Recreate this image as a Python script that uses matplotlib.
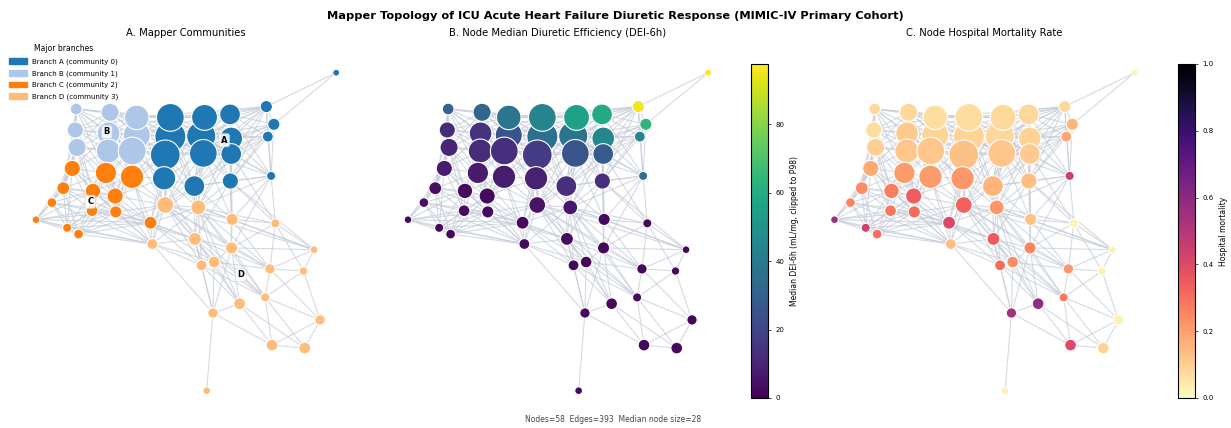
"""
Mapper topology figure: communities, node median DEI-6h, node mortality.
Writes out.png
"""
import numpy as np
import matplotlib
matplotlib.use("Agg")
import matplotlib.pyplot as plt
from matplotlib.collections import LineCollection
from matplotlib.patches import Patch

# ── Mapper graph (layout coords, node stats) ─────────
NODE_X = [1.001, 0.134, 0.247, 0.336, 0.448, 0.562, 0.647, 0.768, 0.793, 0.773,
          0.131, 0.242, 0.336, 0.448, 0.551, 0.651, 0.137, 0.241, 0.321, 0.431,
          0.558, 0.651, 0.121, 0.233, 0.320, 0.427, 0.528, 0.648, 0.784, 0.091,
          0.190, 0.264, 0.053, 0.187, 0.266, 0.431, 0.541, 0.000, 0.104, 0.142,
          0.382, 0.654, 0.798, 0.388, 0.530, 0.652, 0.927, 0.552, 0.594, 0.780,
          0.892, 0.764, 0.679, 0.590, 0.947, 0.787, 0.896, 0.569]
NODE_Y = [1.061, 0.940, 0.929, 0.912, 0.912, 0.912, 0.922, 0.948, 0.889, 0.848,
          0.870, 0.859, 0.853, 0.848, 0.850, 0.842, 0.812, 0.800, 0.800, 0.787,
          0.792, 0.790, 0.742, 0.727, 0.714, 0.709, 0.683, 0.700, 0.717, 0.676,
          0.667, 0.650, 0.628, 0.601, 0.597, 0.620, 0.612, 0.571, 0.544, 0.523,
          0.561, 0.572, 0.559, 0.490, 0.507, 0.477, 0.471, 0.419, 0.430, 0.407,
          0.400, 0.312, 0.291, 0.260, 0.237, 0.153, 0.143, 0.001]
NODE_MEMBERS = [8, 23, 55, 101, 129, 112, 72, 25, 25, 20,
                44, 86, 123, 161, 142, 86, 55, 96, 129, 148,
                129, 72, 44, 76, 91, 91, 72, 44, 14, 28,
                40, 44, 16, 23, 25, 47, 37, 10, 14, 16,
                28, 25, 14, 20, 28, 25, 10, 20, 23, 18,
                12, 14, 23, 18, 18, 23, 23, 10]
COMMUNITY = [0, 1, 1, 1, 0, 0, 0, 0, 0, 0,
             1, 1, 1, 0, 0, 0, 1, 1, 1, 0,
             0, 0, 2, 2, 2, 0, 0, 0, 0, 2,
             2, 2, 2, 2, 2, 3, 3, 2, 2, 2,
             2, 3, 3, 3, 3, 3, 3, 3, 3, 3,
             3, 3, 3, 3, 3, 3, 3, 3]
DEI_MEDIAN = [97, 30, 32, 38, 44, 55, 59, 96, 64, 45,
              12, 14, 25, 35, 37, 45, 10, 12, 13, 17,
              26, 28, 8, 7, 8, 9, 13, 13, 36, 4,
              3, 3, 4, 3, 3, 5, 6, 3, 2, 2,
              2, 2, 2, 2, 3, 2, 2, 2, 2, 2,
              2, 2, 2, 2, 2, 2, 2, 2]
MORTALITY = [0.02, 0.08, 0.08, 0.07, 0.07, 0.08, 0.08, 0.08, 0.16, 0.19,
             0.07, 0.11, 0.09, 0.09, 0.08, 0.09, 0.10, 0.12, 0.12, 0.13,
             0.12, 0.11, 0.18, 0.21, 0.21, 0.22, 0.16, 0.14, 0.45, 0.24,
             0.27, 0.34, 0.26, 0.29, 0.31, 0.33, 0.22, 0.56, 0.44, 0.30,
             0.41, 0.13, 0.02, 0.14, 0.35, 0.26, 0.02, 0.31, 0.24, 0.22,
             0.03, 0.28, 0.58, 0.55, 0.03, 0.40, 0.09, 0.02]

# node id (1-based) : neighbours
ADJACENCY = """
1: 8 9
2: 3 4 5 11 12 13 17 18 19 23 24 30
3: 4 5 11 12 13 14 17 18 19 20 21 24 25
4: 5 6 8 11 12 13 14 15 18 19 20 21 24 25 26
5: 6 7 8 12 13 14 15 16 19 20 21 22 26 27
6: 7 8 13 14 15 16 20 21 22 26 27 28
7: 8 9 10 14 15 16 21 22 27 28 29
8: 9 10 14 15 16 20 21 22 28 29
9: 10 15 16 21 22 28 29
10: 15 16 21 22 27 28 29
11: 12 13 17 18 19 23 24 30 31
12: 13 14 17 18 19 20 23 24 25 26 31 32
13: 14 15 18 19 20 21 24 25 26 32 36
14: 15 16 19 20 21 22 25 26 27 36 37
15: 16 20 21 22 26 27 28 29 36 37
16: 21 22 27 28 29 36 37
17: 18 19 23 24 30 31 32 33 34
18: 19 20 23 24 25 31 32 35
19: 20 21 24 25 26 31 32 35 36
20: 21 22 25 26 27 32 36 37 41
21: 22 26 27 28 29 36 37 42
22: 27 28 29 37 42 43
23: 24 30 31 32 33 34 35 38 39
24: 25 30 31 32 34 35 36 41
25: 26 31 32 35 36 41 44
26: 27 32 36 37 41 44 45
27: 28 29 36 37 41 42 45
28: 29 37 42 43 45 46 47
29: 37 42 43 46
30: 31 32 33 34 35 38 39 40
31: 32 33 34 35 38 39 40 41 44
32: 34 35 36 39 40 41 44
33: 34 35 38 39 40 44
34: 35 38 39 40 41 44 45
35: 36 38 39 40 41 44 45
36: 37 40 41 42 44 45 46 47 48 49 50 52
37: 41 42 43 44 45 46 47 48 49 50 52 53
38: 39 40 41 44
39: 40 41 44
40: 41 44
41: 44 45 48 49
42: 43 46 47 50
43: 46 47 50 51
44: 45 48 49 54
45: 46 48 49 50 52 53 54
46: 47 49 50 52 53 54
47: 50 51
48: 49 52 53 54
49: 50 52 53 54
50: 51 52 55
51: 52 55
52: 55 56 57
53: 54 56 57
54: 56 58
55: 56 57
56: 57
"""

BRANCH_NAMES = ["A", "B", "C", "D"]
BRANCH_COLORS = ["#1f77b4", "#aec7e8", "#ff7f0e", "#ffbb78"]
DEI_VMAX = 97.6   # P98 clip

# ── Build arrays ───────────────────────────────────
x = np.array(NODE_X)
y = np.array(NODE_Y)
members = np.array(NODE_MEMBERS)
comm = np.array(COMMUNITY)
dei = np.clip(np.array(DEI_MEDIAN, dtype=float), 0, DEI_VMAX)
mort = np.array(MORTALITY)

edges = []
for line in ADJACENCY.strip().splitlines():
    src, nbrs = line.split(":")
    for dst in nbrs.split():
        edges.append((int(src) - 1, int(dst) - 1))
segs = [[(x[a], y[a]), (x[b], y[b])] for a, b in edges]

sizes = 3.1 * members
# second row of the dense block sits underneath its neighbours
order = sorted(range(len(x)), key=lambda i: 0 if 10 <= i <= 15 else 1)

# ── Figure ─────────────────────────────────────────
plt.rcParams["font.family"] = "DejaVu Sans"
fig = plt.figure(figsize=(12.31, 4.28), dpi=100)
W, H = 1231, 428
XLIM = (-0.035, 1.032)
YLIM = (-0.0233, 1.09)

def make_ax(left_px):
    ax = fig.add_axes([left_px / W, 30 / H, 320 / W, 334 / H])
    ax.set_xlim(*XLIM)
    ax.set_ylim(*YLIM)
    ax.axis("off")
    return ax

def draw_edges(ax):
    ax.add_collection(LineCollection(segs, colors="#c3cad6", linewidths=0.8,
                                     alpha=0.7, zorder=1))

axA = make_ax(25.5)
axB = make_ax(397.5)
axC = make_ax(824.0)

# A. communities
draw_edges(axA)
node_cols = np.array(BRANCH_COLORS)[comm]
axA.scatter(x[order], y[order], s=sizes[order], c=list(node_cols[order]),
            edgecolors="white", linewidths=0.8, zorder=2)
for k, name in enumerate(BRANCH_NAMES):
    m = comm == k
    axA.text(x[m].mean(), y[m].mean(), name, fontsize=6, fontweight="bold",
             ha="center", va="center", zorder=5,
             bbox=dict(boxstyle="round,pad=0.25", fc="white", ec="#d0d0d0",
                       lw=0.5, alpha=0.85))
axA.set_title("A. Mapper Communities", fontsize=7.2, pad=20)
handles = [Patch(color=BRANCH_COLORS[k],
                 label=f"Branch {BRANCH_NAMES[k]} (community {k})")
           for k in range(4)]
fig.legend(handles=handles, title="Major branches", loc="upper left",
           bbox_to_anchor=(9 / W, 1 - 44 / H), fontsize=5, title_fontsize=5.5,
           frameon=False, handlelength=2.6, handleheight=0.9,
           handletextpad=0.7, labelspacing=0.72, borderaxespad=0,
           borderpad=0)

# B. DEI
draw_edges(axB)
scB = axB.scatter(x[order], y[order], s=sizes[order], c=dei[order],
                  cmap="viridis", vmin=0, vmax=DEI_VMAX, edgecolors="white",
                  linewidths=0.8, zorder=2)
axB.set_title("B. Node Median Diuretic Efficiency (DEI-6h)", fontsize=7.2, pad=20)
caxB = fig.add_axes([751 / W, 30 / H, 17 / W, 334 / H])
cbB = fig.colorbar(scB, cax=caxB)
cbB.set_ticks([0, 20, 40, 60, 80])
cbB.ax.tick_params(labelsize=5, length=2, width=0.5)
cbB.set_label("Median DEI-6h (mL/mg, clipped to P98)", fontsize=5.5)

# C. mortality
draw_edges(axC)
scC = axC.scatter(x[order], y[order], s=sizes[order], c=mort[order],
                  cmap="magma_r", vmin=0, vmax=1, edgecolors="white",
                  linewidths=0.8, zorder=2)
axC.set_title("C. Node Hospital Mortality Rate", fontsize=7.2, pad=20)
caxC = fig.add_axes([1178 / W, 30 / H, 17 / W, 334 / H])
cbC = fig.colorbar(scC, cax=caxC)
cbC.set_ticks([0, 0.2, 0.4, 0.6, 0.8, 1.0])
cbC.ax.tick_params(labelsize=5, length=2, width=0.5)
cbC.set_label("Hospital mortality", fontsize=5.5)

fig.suptitle("Mapper Topology of ICU Acute Heart Failure Diuretic Response "
             "(MIMIC-IV Primary Cohort)", fontsize=8.2, fontweight="bold",
             y=1 - 16 / H, va="center")
fig.text(0.498, 1 - 419 / H,
         f"Nodes={len(x)}  Edges={len(edges)}  "
         f"Median node size={int(np.median(members))}",
         fontsize=5.5, color="#444444", ha="center", va="center")

fig.savefig("out.png", dpi=100)
